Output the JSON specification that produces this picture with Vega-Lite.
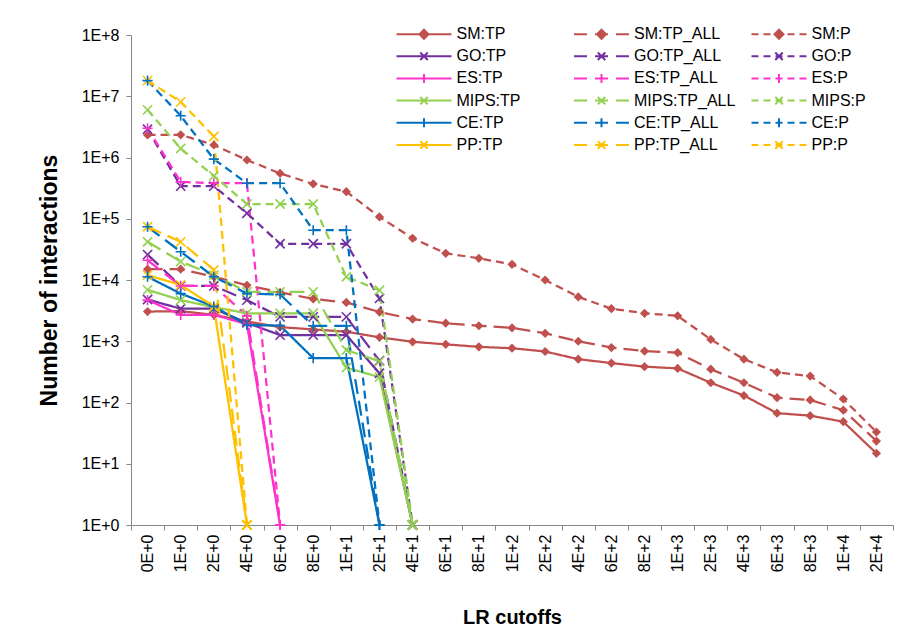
{
"$schema": "https://vega.github.io/schema/vega-lite/v6.json",
"width": 762, "height": 490,
"autosize": "none",
"padding": {"left": 131, "top": 35, "right": 25, "bottom": 110},
"background": "white",
"config": {"view": {"stroke": null}, "font": "Liberation Sans"},
"data": {"values": [
{"x":"0E+0","s":"SM:TP","v":3050},{"x":"1E+0","s":"SM:TP","v":3100},{"x":"2E+0","s":"SM:TP","v":2700},{"x":"4E+0","s":"SM:TP","v":2100},{"x":"6E+0","s":"SM:TP","v":1700},{"x":"8E+0","s":"SM:TP","v":1560},{"x":"1E+1","s":"SM:TP","v":1430},{"x":"2E+1","s":"SM:TP","v":1160},{"x":"4E+1","s":"SM:TP","v":980},{"x":"6E+1","s":"SM:TP","v":890},{"x":"8E+1","s":"SM:TP","v":810},{"x":"1E+2","s":"SM:TP","v":770},{"x":"2E+2","s":"SM:TP","v":680},{"x":"4E+2","s":"SM:TP","v":510},{"x":"6E+2","s":"SM:TP","v":440},{"x":"8E+2","s":"SM:TP","v":385},{"x":"1E+3","s":"SM:TP","v":360},{"x":"2E+3","s":"SM:TP","v":210},{"x":"4E+3","s":"SM:TP","v":130},{"x":"6E+3","s":"SM:TP","v":67},{"x":"8E+3","s":"SM:TP","v":61},{"x":"1E+4","s":"SM:TP","v":48.6},{"x":"2E+4","s":"SM:TP","v":14.8},
{"x":"0E+0","s":"SM:TP_ALL","v":15000},{"x":"1E+0","s":"SM:TP_ALL","v":15000},{"x":"2E+0","s":"SM:TP_ALL","v":11300},{"x":"4E+0","s":"SM:TP_ALL","v":8200},{"x":"6E+0","s":"SM:TP_ALL","v":6300},{"x":"8E+0","s":"SM:TP_ALL","v":4900},{"x":"1E+1","s":"SM:TP_ALL","v":4300},{"x":"2E+1","s":"SM:TP_ALL","v":3000},{"x":"4E+1","s":"SM:TP_ALL","v":2300},{"x":"6E+1","s":"SM:TP_ALL","v":1970},{"x":"8E+1","s":"SM:TP_ALL","v":1790},{"x":"1E+2","s":"SM:TP_ALL","v":1660},{"x":"2E+2","s":"SM:TP_ALL","v":1350},{"x":"4E+2","s":"SM:TP_ALL","v":1000},{"x":"6E+2","s":"SM:TP_ALL","v":790},{"x":"8E+2","s":"SM:TP_ALL","v":690},{"x":"1E+3","s":"SM:TP_ALL","v":650},{"x":"2E+3","s":"SM:TP_ALL","v":350},{"x":"4E+3","s":"SM:TP_ALL","v":210},{"x":"6E+3","s":"SM:TP_ALL","v":120},{"x":"8E+3","s":"SM:TP_ALL","v":110},{"x":"1E+4","s":"SM:TP_ALL","v":75},{"x":"2E+4","s":"SM:TP_ALL","v":23.5},
{"x":"0E+0","s":"SM:P","v":2330000},{"x":"1E+0","s":"SM:P","v":2350000},{"x":"2E+0","s":"SM:P","v":1600000},{"x":"4E+0","s":"SM:P","v":910000},{"x":"6E+0","s":"SM:P","v":550000},{"x":"8E+0","s":"SM:P","v":370000},{"x":"1E+1","s":"SM:P","v":277000},{"x":"2E+1","s":"SM:P","v":107000},{"x":"4E+1","s":"SM:P","v":48000},{"x":"6E+1","s":"SM:P","v":27300},{"x":"8E+1","s":"SM:P","v":22600},{"x":"1E+2","s":"SM:P","v":18000},{"x":"2E+2","s":"SM:P","v":10000},{"x":"4E+2","s":"SM:P","v":5300},{"x":"6E+2","s":"SM:P","v":3400},{"x":"8E+2","s":"SM:P","v":2860},{"x":"1E+3","s":"SM:P","v":2600},{"x":"2E+3","s":"SM:P","v":1070},{"x":"4E+3","s":"SM:P","v":510},{"x":"6E+3","s":"SM:P","v":310},{"x":"8E+3","s":"SM:P","v":270},{"x":"1E+4","s":"SM:P","v":114},{"x":"2E+4","s":"SM:P","v":33},
{"x":"0E+0","s":"GO:TP","v":4800},{"x":"1E+0","s":"GO:TP","v":3400},{"x":"2E+0","s":"GO:TP","v":3400},{"x":"4E+0","s":"GO:TP","v":2000},{"x":"6E+0","s":"GO:TP","v":1260},{"x":"8E+0","s":"GO:TP","v":1260},{"x":"1E+1","s":"GO:TP","v":1260},{"x":"2E+1","s":"GO:TP","v":300},{"x":"4E+1","s":"GO:TP","v":1},
{"x":"0E+0","s":"GO:TP_ALL","v":26000},{"x":"1E+0","s":"GO:TP_ALL","v":8000},{"x":"2E+0","s":"GO:TP_ALL","v":8000},{"x":"4E+0","s":"GO:TP_ALL","v":4700},{"x":"6E+0","s":"GO:TP_ALL","v":2500},{"x":"8E+0","s":"GO:TP_ALL","v":2500},{"x":"1E+1","s":"GO:TP_ALL","v":2500},{"x":"2E+1","s":"GO:TP_ALL","v":480},{"x":"4E+1","s":"GO:TP_ALL","v":1},
{"x":"0E+0","s":"GO:P","v":2900000},{"x":"1E+0","s":"GO:P","v":340000},{"x":"2E+0","s":"GO:P","v":340000},{"x":"4E+0","s":"GO:P","v":123000},{"x":"6E+0","s":"GO:P","v":39000},{"x":"8E+0","s":"GO:P","v":39000},{"x":"1E+1","s":"GO:P","v":39000},{"x":"2E+1","s":"GO:P","v":5000},{"x":"4E+1","s":"GO:P","v":1},
{"x":"0E+0","s":"ES:TP","v":4700},{"x":"1E+0","s":"ES:TP","v":2700},{"x":"2E+0","s":"ES:TP","v":2700},{"x":"4E+0","s":"ES:TP","v":1900},{"x":"6E+0","s":"ES:TP","v":1},
{"x":"0E+0","s":"ES:TP_ALL","v":21000},{"x":"1E+0","s":"ES:TP_ALL","v":8000},{"x":"2E+0","s":"ES:TP_ALL","v":8000},{"x":"4E+0","s":"ES:TP_ALL","v":2600},{"x":"6E+0","s":"ES:TP_ALL","v":1},
{"x":"0E+0","s":"ES:P","v":3000000},{"x":"1E+0","s":"ES:P","v":400000},{"x":"2E+0","s":"ES:P","v":380000},{"x":"4E+0","s":"ES:P","v":380000},{"x":"6E+0","s":"ES:P","v":1},
{"x":"0E+0","s":"MIPS:TP","v":6900},{"x":"1E+0","s":"MIPS:TP","v":4700},{"x":"2E+0","s":"MIPS:TP","v":3600},{"x":"4E+0","s":"MIPS:TP","v":2860},{"x":"6E+0","s":"MIPS:TP","v":2860},{"x":"8E+0","s":"MIPS:TP","v":2860},{"x":"1E+1","s":"MIPS:TP","v":370},{"x":"2E+1","s":"MIPS:TP","v":260},{"x":"4E+1","s":"MIPS:TP","v":1},
{"x":"0E+0","s":"MIPS:TP_ALL","v":42000},{"x":"1E+0","s":"MIPS:TP_ALL","v":20000},{"x":"2E+0","s":"MIPS:TP_ALL","v":12000},{"x":"4E+0","s":"MIPS:TP_ALL","v":6400},{"x":"6E+0","s":"MIPS:TP_ALL","v":6400},{"x":"8E+0","s":"MIPS:TP_ALL","v":6400},{"x":"1E+1","s":"MIPS:TP_ALL","v":720},{"x":"2E+1","s":"MIPS:TP_ALL","v":470},{"x":"4E+1","s":"MIPS:TP_ALL","v":1},
{"x":"0E+0","s":"MIPS:P","v":6000000},{"x":"1E+0","s":"MIPS:P","v":1400000},{"x":"2E+0","s":"MIPS:P","v":500000},{"x":"4E+0","s":"MIPS:P","v":174000},{"x":"6E+0","s":"MIPS:P","v":174000},{"x":"8E+0","s":"MIPS:P","v":174000},{"x":"1E+1","s":"MIPS:P","v":11300},{"x":"2E+1","s":"MIPS:P","v":6800},{"x":"4E+1","s":"MIPS:P","v":1},
{"x":"0E+0","s":"CE:TP","v":11300},{"x":"1E+0","s":"CE:TP","v":6000},{"x":"2E+0","s":"CE:TP","v":3700},{"x":"4E+0","s":"CE:TP","v":1840},{"x":"6E+0","s":"CE:TP","v":1800},{"x":"8E+0","s":"CE:TP","v":530},{"x":"1E+1","s":"CE:TP","v":530},{"x":"2E+1","s":"CE:TP","v":1},
{"x":"0E+0","s":"CE:TP_ALL","v":74000},{"x":"1E+0","s":"CE:TP_ALL","v":29000},{"x":"2E+0","s":"CE:TP_ALL","v":11300},{"x":"4E+0","s":"CE:TP_ALL","v":6000},{"x":"6E+0","s":"CE:TP_ALL","v":5800},{"x":"8E+0","s":"CE:TP_ALL","v":1780},{"x":"1E+1","s":"CE:TP_ALL","v":1780},{"x":"2E+1","s":"CE:TP_ALL","v":1},
{"x":"0E+0","s":"CE:P","v":18000000},{"x":"1E+0","s":"CE:P","v":4800000},{"x":"2E+0","s":"CE:P","v":940000},{"x":"4E+0","s":"CE:P","v":380000},{"x":"6E+0","s":"CE:P","v":380000},{"x":"8E+0","s":"CE:P","v":65000},{"x":"1E+1","s":"CE:P","v":65000},{"x":"2E+1","s":"CE:P","v":1},
{"x":"0E+0","s":"PP:TP","v":12000},{"x":"1E+0","s":"PP:TP","v":8300},{"x":"2E+0","s":"PP:TP","v":3700},{"x":"4E+0","s":"PP:TP","v":1},
{"x":"0E+0","s":"PP:TP_ALL","v":74000},{"x":"1E+0","s":"PP:TP_ALL","v":42000},{"x":"2E+0","s":"PP:TP_ALL","v":14600},{"x":"4E+0","s":"PP:TP_ALL","v":1},
{"x":"0E+0","s":"PP:P","v":18000000},{"x":"1E+0","s":"PP:P","v":8100000},{"x":"2E+0","s":"PP:P","v":2200000},{"x":"4E+0","s":"PP:P","v":1}
]},
"encoding": {
  "x": {"field": "x", "type": "ordinal", "bandPosition": 0.5,
    "scale": {"type": "band", "paddingInner": 0, "paddingOuter": 0,
      "domain": ["0E+0","1E+0","2E+0","4E+0","6E+0","8E+0","1E+1","2E+1","4E+1","6E+1","8E+1","1E+2","2E+2","4E+2","6E+2","8E+2","1E+3","2E+3","4E+3","6E+3","8E+3","1E+4","2E+4"]},
    "axis": {"title": "LR cutoffs", "labelAngle": -90, "tickBand": "extent", "labelFontSize": 16, "labelColor": "#000", "labelPadding": 4, "tickSize": 5, "tickColor": "#868686", "domainColor": "#868686", "titleFontSize": 20, "titleFontWeight": "bold", "titleColor": "#000", "titleY": 82, "titleBaseline": "top", "grid": false}},
  "y": {"field": "v", "type": "quantitative",
    "scale": {"type": "log", "domain": [1, 100000000]},
    "axis": {"title": "Number of interactions", "values": [1,10,100,1000,10000,100000,1000000,10000000,100000000], "labelExpr": "'1E+' + round(log(datum.value)/LN10)", "labelFontSize": 16, "labelColor": "#000", "labelPadding": 7, "tickSize": 5, "tickColor": "#868686", "domainColor": "#868686", "titleFontSize": 23, "titleFontWeight": "bold", "titleColor": "#000", "titleX": -70, "grid": false}}
},
"layer": [
  {"mark": {"type": "line", "strokeWidth": 2.25},
   "encoding": {
     "stroke": {"field": "s", "type": "nominal", "legend": null,
       "scale": {"domain": ["SM:TP","SM:TP_ALL","SM:P","GO:TP","GO:TP_ALL","GO:P","ES:TP","ES:TP_ALL","ES:P","MIPS:TP","MIPS:TP_ALL","MIPS:P","CE:TP","CE:TP_ALL","CE:P","PP:TP","PP:TP_ALL","PP:P"],
                 "range": ["#C0504D","#C0504D","#C0504D","#7030A0","#7030A0","#7030A0","#FF33CC","#FF33CC","#FF33CC","#92D050","#92D050","#92D050","#0070C0","#0070C0","#0070C0","#FFC000","#FFC000","#FFC000"]}},
     "strokeDash": {"field": "s", "type": "nominal", "legend": null,
       "scale": {"domain": ["SM:TP","SM:TP_ALL","SM:P","GO:TP","GO:TP_ALL","GO:P","ES:TP","ES:TP_ALL","ES:P","MIPS:TP","MIPS:TP_ALL","MIPS:P","CE:TP","CE:TP_ALL","CE:P","PP:TP","PP:TP_ALL","PP:P"],
                 "range": [[1,0],[15,7],[8,5],[1,0],[15,7],[8,5],[1,0],[15,7],[8,5],[1,0],[15,7],[8,5],[1,0],[15,7],[8,5],[1,0],[15,7],[8,5]]}}
   }},
  {"transform": [{"filter": "indexof(datum.s, 'SM:') == 0"}],
   "mark": {"type": "point", "shape": "diamond", "filled": true, "size": 85, "opacity": 1},
   "encoding": {
     "fill": {"field": "s", "type": "nominal", "legend": null,
       "scale": {"domain": ["SM:TP","SM:TP_ALL","SM:P","GO:TP","GO:TP_ALL","GO:P","ES:TP","ES:TP_ALL","ES:P","MIPS:TP","MIPS:TP_ALL","MIPS:P","CE:TP","CE:TP_ALL","CE:P","PP:TP","PP:TP_ALL","PP:P"],
                 "range": ["#C0504D","#C0504D","#C0504D","#7030A0","#7030A0","#7030A0","#FF33CC","#FF33CC","#FF33CC","#92D050","#92D050","#92D050","#0070C0","#0070C0","#0070C0","#FFC000","#FFC000","#FFC000"]}}
   }},
  {"transform": [{"filter": "test(/^(GO|MIPS|PP):/, datum.s)"}],
   "mark": {"type": "point", "shape": "M-1,-1L1,1M-1,1L1,-1", "filled": false, "strokeWidth": 1.6, "size": 85, "opacity": 1},
   "encoding": {
     "stroke": {"field": "s", "type": "nominal", "legend": null}
   }},
  {"transform": [{"filter": "test(/^(ES|CE):/, datum.s)"}],
   "mark": {"type": "point", "shape": "M0,-1.1V1.1M-1.1,0H1.1", "filled": false, "strokeWidth": 1.6, "size": 85, "opacity": 1},
   "encoding": {
     "stroke": {"field": "s", "type": "nominal", "legend": null}
   }},
  {"transform": [{"filter": "false"}],
   "mark": {"type": "point", "filled": false, "strokeWidth": 2, "size": 100, "opacity": 1},
   "encoding": {
     "color": {"field": "s", "type": "nominal",
       "scale": {"domain": ["SM:TP","GO:TP","ES:TP","MIPS:TP","CE:TP","PP:TP","SM:TP_ALL","GO:TP_ALL","ES:TP_ALL","MIPS:TP_ALL","CE:TP_ALL","PP:TP_ALL","SM:P","GO:P","ES:P","MIPS:P","CE:P","PP:P"],
                 "range": ["#C0504D","#7030A0","#FF33CC","#92D050","#0070C0","#FFC000","#C0504D","#7030A0","#FF33CC","#92D050","#0070C0","#FFC000","#C0504D","#7030A0","#FF33CC","#92D050","#0070C0","#FFC000"]},
       "legend": {"orient": "none", "legendX": 285, "legendY": -9, "columns": 3, "title": null, "gridAlign": "all", "symbolSize": 100, "symbolStrokeWidth": 2, "symbolOpacity": 1, "labelFontSize": 16, "labelColor": "#000", "labelOffset": 24.5, "columnPadding": 11.5, "rowPadding": 4.2, "labelLimit": 300}},
     "shape": {"field": "s", "type": "nominal",
       "scale": {"domain": ["SM:TP","GO:TP","ES:TP","MIPS:TP","CE:TP","PP:TP","SM:TP_ALL","GO:TP_ALL","ES:TP_ALL","MIPS:TP_ALL","CE:TP_ALL","PP:TP_ALL","SM:P","GO:P","ES:P","MIPS:P","CE:P","PP:P"],
                 "range": [
                   "M-5.5,0H5.5M0,-0.9L0.9,0L0,0.9L-0.9,0ZM0,-0.45L0.45,0L0,0.45L-0.45,0ZM0,-0.9V0.9",
                   "M-5.5,0H5.5M-0.75,-0.75L0.75,0.75M-0.75,0.75L0.75,-0.75",
                   "M-5.5,0H5.5M0,-0.9V0.9",
                   "M-5.5,0H5.5M-0.75,-0.75L0.75,0.75M-0.75,0.75L0.75,-0.75",
                   "M-5.5,0H5.5M0,-0.9V0.9",
                   "M-5.5,0H5.5M-0.75,-0.75L0.75,0.75M-0.75,0.75L0.75,-0.75",
                   "M-5.5,0H-2.9M-1.3,0H1.3M2.9,0H5.5M0,-0.9L0.9,0L0,0.9L-0.9,0ZM0,-0.45L0.45,0L0,0.45L-0.45,0ZM0,-0.9V0.9",
                   "M-5.5,0H-2.9M-1.3,0H1.3M2.9,0H5.5M-0.75,-0.75L0.75,0.75M-0.75,0.75L0.75,-0.75",
                   "M-5.5,0H-2.9M-1.3,0H1.3M2.9,0H5.5M0,-0.9V0.9",
                   "M-5.5,0H-2.9M-1.3,0H1.3M2.9,0H5.5M-0.75,-0.75L0.75,0.75M-0.75,0.75L0.75,-0.75",
                   "M-5.5,0H-2.9M-1.3,0H1.3M2.9,0H5.5M0,-0.9V0.9",
                   "M-5.5,0H-2.9M-1.3,0H1.3M2.9,0H5.5M-0.75,-0.75L0.75,0.75M-0.75,0.75L0.75,-0.75",
                   "M-5.5,0H-4.1M-3.1,0H-1.7M-0.7,0H0.7M1.7,0H3.1M4.1,0H5.5M0,-0.9L0.9,0L0,0.9L-0.9,0ZM0,-0.45L0.45,0L0,0.45L-0.45,0ZM0,-0.9V0.9",
                   "M-5.5,0H-4.1M-3.1,0H-1.7M-0.7,0H0.7M1.7,0H3.1M4.1,0H5.5M-0.75,-0.75L0.75,0.75M-0.75,0.75L0.75,-0.75",
                   "M-5.5,0H-4.1M-3.1,0H-1.7M-0.7,0H0.7M1.7,0H3.1M4.1,0H5.5M0,-0.9V0.9",
                   "M-5.5,0H-4.1M-3.1,0H-1.7M-0.7,0H0.7M1.7,0H3.1M4.1,0H5.5M-0.75,-0.75L0.75,0.75M-0.75,0.75L0.75,-0.75",
                   "M-5.5,0H-4.1M-3.1,0H-1.7M-0.7,0H0.7M1.7,0H3.1M4.1,0H5.5M0,-0.9V0.9",
                   "M-5.5,0H-4.1M-3.1,0H-1.7M-0.7,0H0.7M1.7,0H3.1M4.1,0H5.5M-0.75,-0.75L0.75,0.75M-0.75,0.75L0.75,-0.75"]},
       "legend": {"orient": "none", "legendX": 285, "legendY": -9, "columns": 3, "title": null, "gridAlign": "all", "symbolSize": 100, "symbolStrokeWidth": 2, "symbolOpacity": 1, "labelFontSize": 16, "labelColor": "#000", "labelOffset": 24.5, "columnPadding": 11.5, "rowPadding": 4.2, "labelLimit": 300}}
   }}
]
}
